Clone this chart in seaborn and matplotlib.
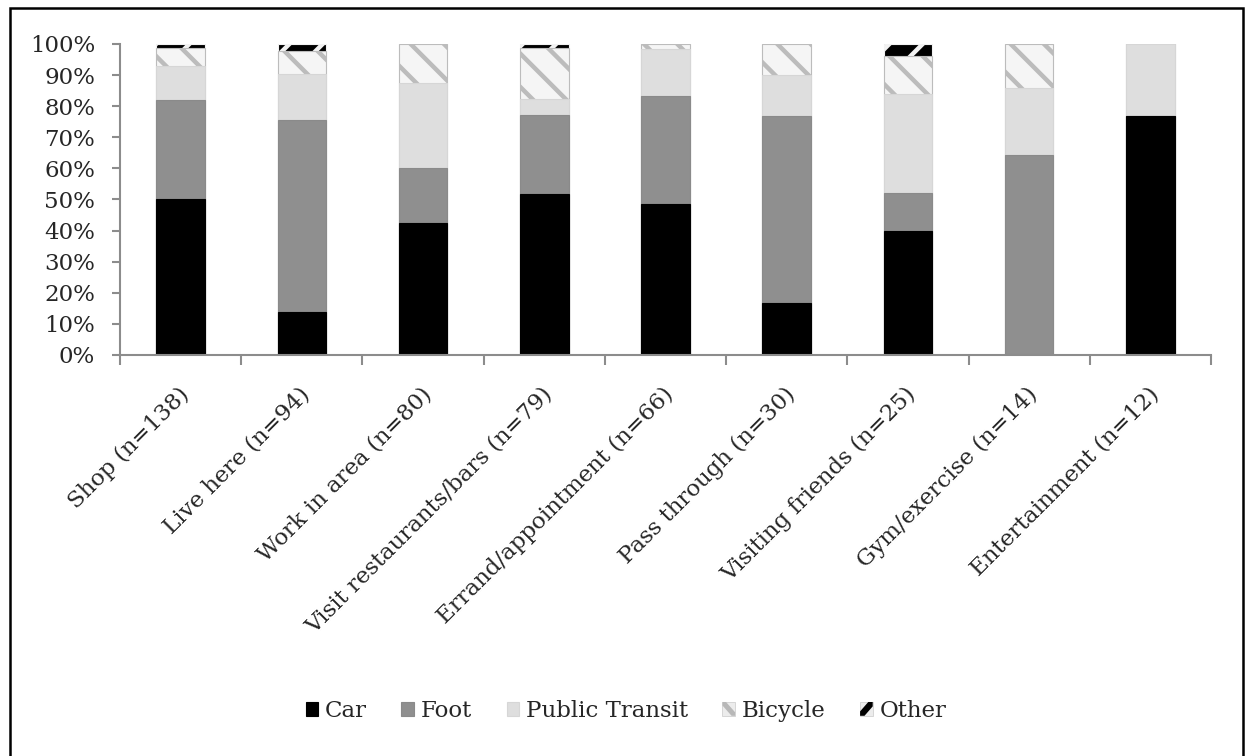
import matplotlib
matplotlib.use("Agg")
import matplotlib.pyplot as plt
import matplotlib.transforms as mtransforms
from matplotlib.patches import Patch, Rectangle, Polygon
from matplotlib.legend_handler import HandlerBase
import numpy as np
import seaborn as sns

# Trip purpose categories (respondent counts in parentheses)
categories = [
    "Shop (n=138)",
    "Live here (n=94)",
    "Work in area (n=80)",
    "Visit restaurants/bars (n=79)",
    "Errand/appointment (n=66)",
    "Pass through (n=30)",
    "Visiting friends (n=25)",
    "Gym/exercise (n=14)",
    "Entertainment (n=12)",
]

# Share of trips (%) by arrival mode
car = [50.0, 13.8, 42.5, 51.9, 48.5, 16.7, 40.0, 0.0, 77.0]
foot = [31.9, 61.7, 17.5, 25.3, 34.8, 60.0, 12.0, 64.3, 0.0]
transit = [10.9, 14.9, 27.5, 5.1, 15.2, 13.3, 32.0, 21.4, 23.0]
bicycle = [5.8, 7.4, 12.5, 16.5, 1.5, 10.0, 12.0, 14.3, 0.0]
other = [1.4, 2.1, 0.0, 1.3, 0.0, 0.0, 4.0, 0.0, 0.0]

mode_names = ["Car", "Foot", "Public Transit", "Bicycle", "Other"]
y_ticks = list(range(0, 101, 10))
y_tick_labels = [f"{v}%" for v in y_ticks]

sns.set_style("white")
plt.rcParams["font.family"] = ["DejaVu Serif"]
plt.rcParams["hatch.linewidth"] = 3.2

FS = 16.5
AXIS_GREY = "#8c8c8c"

# face colour, hatch, edge/hatch colour per mode
styles = {
    "Car": dict(color="#000000", hatch=None, edgecolor="#000000"),
    "Foot": dict(color="#8f8f8f", hatch=None, edgecolor="#8a8a8a"),
    "Public Transit": dict(color="#dedede", hatch=None, edgecolor="#d6d6d6"),
    "Bicycle": dict(color="#f5f5f5", hatch="\\", edgecolor="#bcbcbc"),
    "Other": dict(color="#000000", hatch="/", edgecolor="#f2f2f2"),
}


class StripeKey(HandlerBase):
    """Legend key showing a single stripe of a hatched fill."""

    def __init__(self, kind):
        super().__init__()
        self.kind = kind

    def create_artists(self, legend, orig_handle, xdescent, ydescent,
                       width, height, fontsize, trans):
        x0, y0 = -xdescent, -ydescent
        bg = Rectangle((x0, y0), width, height, transform=trans,
                       facecolor="#ececec", edgecolor="#d0d0d0", lw=0.6)
        if self.kind == "Bicycle":
            w = width * 0.28
            pts = [(x0, y0 + height), (x0 + w, y0 + height),
                   (x0 + width, y0 + w), (x0 + width, y0)]
            pts = [(x0, y0 + height), (x0 + w, y0 + height),
                   (x0 + width, y0 + w), (x0 + width, y0),
                   (x0 + width - w, y0), (x0, y0 + height - w)]
            stripe = Polygon(pts, closed=True, transform=trans,
                             facecolor="#b8b8b8", edgecolor="none")
        else:
            w = width * 0.35
            pts = [(x0, y0 + w), (x0 + width - w, y0 + height),
                   (x0 + width, y0 + height), (x0 + width, y0 + height - w),
                   (x0 + w, y0), (x0, y0)]
            stripe = Polygon(pts, closed=True, transform=trans,
                             facecolor="#000000", edgecolor="none")
        return [bg, stripe]


fig = plt.figure(figsize=(12.46, 7.56), dpi=100)
ax = fig.add_axes([120 / 1246, 1 - 355 / 756, 1091 / 1246, 311 / 756])

# Stacked bars: draw cumulative totals from the top layer down so each
# lower layer covers the part of the one above it.
layers = [car, foot, transit, bicycle, other]
cum = np.cumsum(np.array(layers, dtype=float), axis=0)
for name, totals in reversed(list(zip(mode_names, cum))):
    st = styles[name]
    kws = dict(edgecolor=st["edgecolor"], linewidth=0.8)
    if st["hatch"]:
        kws["hatch"] = st["hatch"]
    sns.barplot(x=categories, y=totals, color=st["color"], saturation=1,
                width=0.4, errorbar=None, ax=ax, **kws)

ax.set_xlim(-0.5, len(categories) - 0.5)
ax.set_ylim(0, 100)
ax.set_xlabel("")
ax.set_ylabel("")

for side in ["top", "right"]:
    ax.spines[side].set_visible(False)
for side in ["left", "bottom"]:
    ax.spines[side].set_color(AXIS_GREY)
    ax.spines[side].set_linewidth(1.5)

ax.set_yticks(y_ticks)
ax.set_yticklabels(y_tick_labels, fontsize=FS)
ax.tick_params(axis="y", direction="out", length=6, width=1.5,
               color=AXIS_GREY, pad=12, left=True)

ax.set_xticks(range(len(categories)))
ax.set_xticklabels(categories, fontsize=FS, rotation=45, ha="right",
                   va="center", rotation_mode="anchor")
ax.tick_params(axis="x", which="major", length=0, pad=26)
ax.set_xticks(np.arange(-0.5, len(categories), 1.0), minor=True)
ax.tick_params(axis="x", which="minor", direction="out", length=7,
               width=1.5, color=AXIS_GREY, bottom=True)
shift = mtransforms.ScaledTranslation(5 / 100, 0, fig.dpi_scale_trans)
for lbl in ax.get_xticklabels():
    lbl.set_transform(lbl.get_transform() + shift)

handles = []
handler_map = {}
for name in mode_names:
    st = styles[name]
    h = Patch(facecolor=st["color"], edgecolor=st["edgecolor"],
              linewidth=0.8, label=name)
    if st["hatch"]:
        handler_map[h] = StripeKey(name)
    handles.append(h)
fig.legend(handles=handles, handler_map=handler_map, loc="center", ncol=5,
           frameon=False, fontsize=FS,
           bbox_to_anchor=(626 / 1246, 1 - 711 / 756),
           handlelength=0.55, handleheight=0.55, handletextpad=0.3,
           columnspacing=1.5)

# Outer border of the figure panel
fig.add_artist(Rectangle((10 / 1246, -0.05), 1233 / 1246, 1.05 - 8 / 756,
                         transform=fig.transFigure, fill=False,
                         edgecolor="black", linewidth=1.8))

fig.savefig("out.png", dpi=100)
